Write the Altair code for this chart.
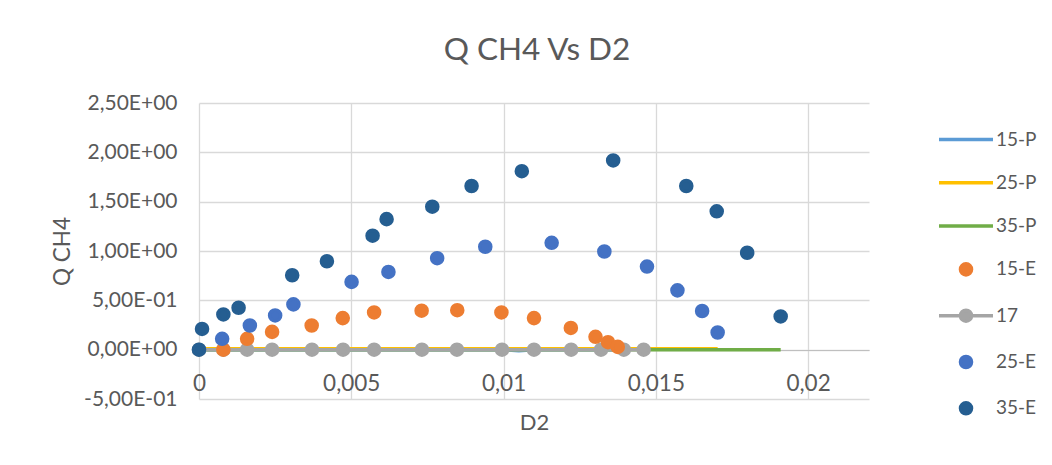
import altair as alt
import pandas as pd

FONT = "Lato"
TEXT = "#595959"

series_names = ["15-P", "25-P", "35-P", "15-E", "17", "25-E", "35-E"]
series_colors = ["#5B9BD5", "#FFC000", "#70AD47", "#ED7D31", "#A5A5A5", "#4472C4", "#255E91"]

# ---- data ----
p15_x = [0.0, 0.0008, 0.00158, 0.0024, 0.0037, 0.00472, 0.00575, 0.00731, 0.00848, 0.00993, 0.0105, 0.0110, 0.01221, 0.01302, 0.01343, 0.01375]
p15_y = [0.0, 0.0, 0.0, 0.0, 0.0, 0.0, 0.0, 0.0, 0.0, 0.0, -0.01, 0.0, 0.0, 0.0, 0.0, 0.0]

p25_x = [0.0, 0.00076, 0.00167, 0.0025, 0.0031, 0.00501, 0.00622, 0.00782, 0.0094, 0.01158, 0.01331, 0.01471, 0.01571, 0.01652, 0.01703]
p25_y = [0.01, 0.01, 0.01, 0.01, 0.01, 0.01, 0.01, 0.01, 0.01, 0.01, 0.01, 0.01, 0.01, 0.01, 0.01]

p35_x = [0.0, 0.0001, 0.0008, 0.0013, 0.00306, 0.0042, 0.0057, 0.00616, 0.00766, 0.00895, 0.0106, 0.0136, 0.0160, 0.0170, 0.0180, 0.0191]
p35_y = [0.0, 0.0, 0.0, 0.0, 0.0, 0.0, 0.0, 0.0, 0.0, 0.0, 0.0, 0.0, 0.0, 0.0, 0.0, 0.0]

e15_x = [0.0008, 0.00158, 0.0024, 0.0037, 0.00472, 0.00575, 0.00731, 0.00848, 0.00993, 0.0110, 0.01221, 0.01302, 0.01343, 0.01375]
e15_y = [0.0, 0.11, 0.18, 0.245, 0.32, 0.377, 0.395, 0.40, 0.377, 0.32, 0.22, 0.13, 0.076, 0.028]

s17_x = [0.0, 0.0008, 0.00158, 0.0024, 0.00371, 0.00473, 0.00575, 0.00732, 0.00847, 0.00995, 0.0110, 0.01222, 0.0132, 0.01395, 0.0146]
s17_y = [0.0, 0.0, 0.0, 0.0, 0.0, 0.0, 0.0, 0.0, 0.0, 0.0, 0.0, 0.0, 0.0, 0.0, 0.0]

e25_x = [0.00076, 0.00167, 0.0025, 0.0031, 0.00501, 0.00622, 0.00782, 0.0094, 0.01158, 0.01331, 0.01471, 0.01571, 0.01652, 0.01703]
e25_y = [0.11, 0.245, 0.347, 0.459, 0.687, 0.788, 0.927, 1.043, 1.083, 0.995, 0.842, 0.601, 0.392, 0.174]

e35_x = [0.0, 0.0001, 0.0008, 0.0013, 0.00306, 0.0042, 0.0057, 0.00616, 0.00766, 0.00895, 0.0106, 0.0136, 0.0160, 0.0170, 0.0180, 0.0191]
e35_y = [0.0, 0.21, 0.357, 0.425, 0.754, 0.896, 1.155, 1.323, 1.449, 1.659, 1.809, 1.918, 1.659, 1.402, 0.982, 0.337]

x_ticks = [0, 0.005, 0.01, 0.015, 0.02]
y_ticks = [-0.5, 0, 0.5, 1.0, 1.5, 2.0, 2.5]

records = []
for name, xs, ys in [
    ("15-P", p15_x, p15_y), ("25-P", p25_x, p25_y), ("35-P", p35_x, p35_y),
    ("17", s17_x, s17_y),
    ("15-E", e15_x, e15_y), ("25-E", e25_x, e25_y), ("35-E", e35_x, e35_y),
]:
    for x, y in zip(xs, ys):
        records.append({"series": name, "D2": x, "Q": y})
df = pd.DataFrame(records)

# ---- legend / marker symbols (path unit = sqrt(size)/2 px) ----
R = 0.41
CIRCLE = f"M{R},0A{R},{R},0,1,1,-{R},0A{R},{R},0,1,1,{R},0Z"
LINE = "M-2,0H2"
LINE_CIRCLE = LINE + CIRCLE
shape_range = [LINE, LINE, LINE, CIRCLE, LINE_CIRCLE, CIRCLE, CIRCLE]
SYM = 729

fill_scale = alt.Scale(domain=series_names, range=series_colors)
stroke_scale = alt.Scale(domain=series_names, range=series_colors)
shape_scale = alt.Scale(domain=series_names, range=shape_range)

x_axis = alt.Axis(
    values=x_ticks,
    labelExpr="replace(format(datum.value, '.3~f'), '.', ',')",
    offset=-49, ticks=False, domainColor="#BFBFBF", domainWidth=1.2,
    labelPadding=22, labelFlush=False, labelOverlap=False,
    labelFont=FONT, labelFontSize=22.5, labelColor=TEXT,
    title="D2", titleFont=FONT, titleFontSize=22, titleColor=TEXT, titleFontWeight="normal",
    titleX=335, titleY=79, titleBaseline="alphabetic", titleAlign="center",
    grid=True, gridColor="#D9D9D9", gridWidth=1.3,
)
y_axis = alt.Axis(
    values=y_ticks,
    labelExpr=(
        "(datum.value < 0 ? '-' : '') + "
        "replace(format((abs(datum.value) >= 1 || datum.value == 0) ? abs(datum.value) : abs(datum.value) * 10, '.2f'), '.', ',') + "
        "((abs(datum.value) >= 1 || datum.value == 0) ? 'E+00' : 'E-01')"
    ),
    domain=False, ticks=False, labelPadding=22, labelFlush=False, labelOverlap=False,
    labelFont=FONT, labelFontSize=21, labelColor=TEXT,
    title="Q CH4", titleFont=FONT, titleFontSize=22.5, titleColor=TEXT, titleFontWeight="normal",
    titleX=-130, titleY=148, titleBaseline="alphabetic", titleAlign="center", titleAngle=270,
    grid=True, gridColor="#D9D9D9", gridWidth=1.3,
)

X = alt.X("D2:Q", scale=alt.Scale(domain=[0, 0.022], nice=False, zero=False), axis=x_axis)
Y = alt.Y("Q:Q", scale=alt.Scale(domain=[-0.5, 2.5], nice=False, zero=False), axis=y_axis)

legend = alt.Legend(
    title=None, orient="none", legendX=751.5, legendY=21, padding=0,
    symbolSize=SYM, symbolStrokeWidth=3.5, symbolFillColor="white", symbolOpacity=1,
    labelFont=FONT, labelFontSize=19, labelColor=TEXT, labelOffset=14.5, rowPadding=17.3,
)

FILL = alt.Fill("series:N", scale=fill_scale, legend=legend)
STROKE = alt.Stroke("series:N", scale=stroke_scale, legend=legend)
SHAPE = alt.Shape("series:N", scale=shape_scale, legend=legend)

base = alt.Chart(df)

layers = []
for s in ["15-P", "25-P", "35-P", "17"]:
    layers.append(
        base.transform_filter(alt.datum.series == s)
        .mark_line(strokeWidth=3.5)
        .encode(x=X, y=Y, stroke=STROKE)
    )

layers.append(
    base.transform_filter(alt.datum.series == "17")
    .mark_point(filled=True, size=SYM, strokeWidth=3.5, opacity=1, shape=CIRCLE)
    .encode(x=X, y=Y, fill=FILL, stroke=STROKE)
)

layers.append(
    base.transform_filter("indexof(['15-E','25-E','35-E'], datum.series) >= 0")
    .mark_point(filled=True, size=SYM, strokeWidth=3.5, opacity=1)
    .encode(x=X, y=Y, fill=FILL, stroke=STROKE, shape=SHAPE)
)

chart = (
    alt.layer(*layers)
    .properties(
        width=670, height=296,
        title=alt.TitleParams(
            text="Q CH4 Vs D2", font=FONT, fontSize=31.5, fontWeight="normal", color=TEXT,
            anchor="middle", frame="group", baseline="alphabetic", offset=1, dx=3,
        ),
        autosize=alt.AutoSizeParams(type="none"),
        padding={"left": 191, "top": 95, "right": 175, "bottom": 50},
    )
    .configure_view(stroke=None)
)

chart.save("out.html", embed_options={"renderer": "svg", "actions": False})
